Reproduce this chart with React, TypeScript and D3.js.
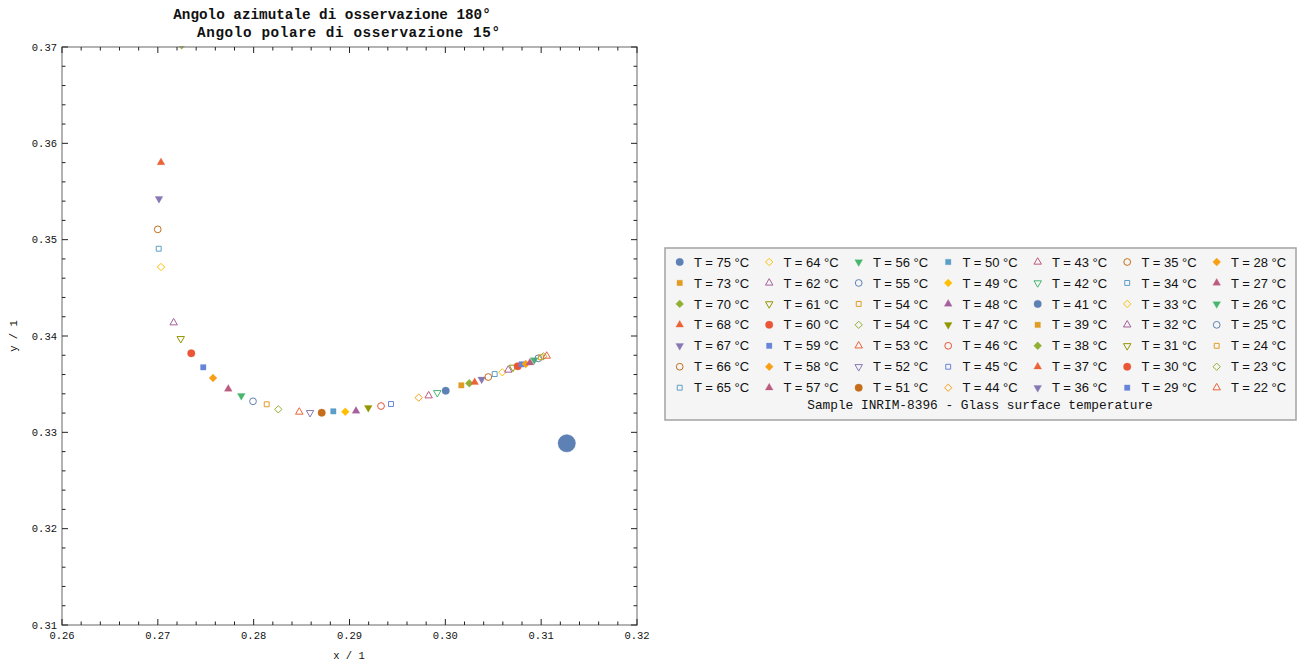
import React from "react";
import * as d3 from "d3";

// ---------- data ----------
const temps: number[] = [75, 73, 70, 68, 67, 66, 65, 64, 62, 61, 60, 59, 58, 57, 56, 55, 54, 54, 53, 52, 51, 50, 49, 48, 47, 46, 45, 44, 43, 42, 41, 39, 38, 37, 36, 35, 34, 33, 32, 31, 30, 29, 28, 27, 26, 25, 24, 23, 22];
const xs: number[] = [0.31267, 0.2760, 0.27249, 0.27033, 0.27012, 0.26999, 0.27009, 0.27033, 0.27165, 0.27239, 0.27349, 0.27474, 0.27576, 0.27735, 0.27871, 0.27993, 0.28136, 0.28257, 0.28476, 0.28588, 0.28710, 0.28831, 0.28956, 0.29068, 0.29196, 0.29329, 0.29433, 0.29722, 0.29826, 0.29916, 0.30004, 0.30167, 0.30250, 0.30306, 0.30379, 0.30448, 0.30515, 0.30595, 0.30657, 0.30706, 0.30755, 0.30797, 0.30839, 0.30883, 0.30928, 0.30970, 0.30998, 0.31022, 0.31058];
const ys: number[] = [0.32886, 0.3790, 0.37018, 0.35801, 0.35425, 0.35107, 0.34906, 0.34716, 0.34138, 0.33972, 0.33820, 0.33675, 0.33564, 0.33450, 0.33380, 0.33322, 0.33291, 0.33239, 0.33211, 0.33204, 0.33204, 0.33218, 0.33214, 0.33221, 0.33256, 0.33273, 0.33294, 0.33360, 0.33380, 0.33411, 0.33432, 0.33488, 0.33509, 0.33519, 0.33550, 0.33574, 0.33605, 0.33623, 0.33647, 0.33675, 0.33685, 0.33706, 0.33709, 0.33723, 0.33751, 0.33768, 0.33779, 0.33789, 0.33792];
const bigIndex = 0; // first sample drawn enlarged

const palette: string[] = ["#5E81B5", "#E19C24", "#8FB032", "#EB6235", "#8778B3", "#C56E1A", "#5D9EC7", "#FFBF00", "#A5609D", "#929600", "#E95536", "#6685D9", "#F89F13", "#BC5B80", "#47B66D"];

const xTicks: number[] = [0.26, 0.27, 0.28, 0.29, 0.30, 0.31, 0.32];
const yTicks: number[] = [0.31, 0.32, 0.33, 0.34, 0.35, 0.36, 0.37];
const titleLines: string[] = ["Angolo azimutale di osservazione 180°", "Angolo polare di osservazione 15°"];
const legendCaption = "Sample INRIM-8396 - Glass surface temperature";

// ---------- layout ----------
const W = 1300, H = 663;
const plot = { left: 62, right: 637, top: 47, bottom: 625 };
const xScale = d3.scaleLinear().domain([0.26, 0.32]).range([plot.left, plot.right]);
const yScale = d3.scaleLinear().domain([0.31, 0.37]).range([plot.bottom, plot.top]);
const xMinor = d3.range(0, 31).map((i) => 0.26 + i * 0.002);
const yMinor = d3.range(0, 31).map((i) => 0.31 + i * 0.002);

const mono = "'Liberation Mono', 'DejaVu Sans Mono', monospace";
const sans = "'Liberation Sans', Arial, sans-serif";

function markerPath(i: number, scale = 1): { d: string; filled: boolean; rot: number } {
  const shape = i % 10;
  const filled = shape < 5;
  const k = shape % 5;
  let type: d3.SymbolType = d3.symbolCircle;
  let size = 44;
  let rot = 0;
  if (k === 0) { type = d3.symbolCircle; size = filled ? 44 : 36; }
  else if (k === 1) { type = d3.symbolSquare; size = filled ? 30 : 24; }
  else if (k === 2) { type = d3.symbolDiamond2; size = filled ? 40 : 34; }
  else if (k === 3) { type = d3.symbolTriangle; size = filled ? 26 : 24; }
  else { type = d3.symbolTriangle; size = filled ? 26 : 24; rot = 180; }
  const d = d3.symbol().type(type).size(size * scale * scale)() || "";
  return { d, filled, rot };
}

function Marker({ i, x, y, scale = 1 }: { i: number; x: number; y: number; scale?: number }) {
  const { d, filled, rot } = markerPath(i, scale);
  const c = palette[i % palette.length];
  return (
    <path
      d={d}
      transform={`translate(${x},${y}) rotate(${rot})`}
      fill={filled ? c : "none"}
      stroke={c}
      strokeWidth={filled ? 0.3 : 1}
    />
  );
}

export default function App() {
  const legendX = 665, legendY = 248, legendW = 631, legendH = 172;
  const colStep = 89.5, rowStep = 20.95;
  return (
    <svg width={W} height={H} style={{ position: "absolute", left: 0, top: 0, background: "#fff" }}>
      <defs>
        <clipPath id="plotClip">
          <rect x={plot.left} y={plot.top - 1} width={plot.right - plot.left} height={plot.bottom - plot.top + 1} />
        </clipPath>
      </defs>
      {/* title */}
      <text x={332} y={19} textAnchor="middle" fontFamily={mono} fontWeight="bold" fontSize={14.3} fill="#111">
        {titleLines[0]}
      </text>
      <text x={348.5} y={36.5} textAnchor="middle" fontFamily={mono} fontWeight="bold" fontSize={14.3} fill="#111" textLength={303} lengthAdjust="spacing">
        {titleLines[1]}
      </text>
      {/* points */}
      <g clipPath="url(#plotClip)">
        {temps.map((t, i) => (
          <Marker key={i} i={i} x={xScale(xs[i])} y={yScale(ys[i])} scale={i === bigIndex ? 2.35 : 1} />
        ))}
      </g>
      {/* frame */}
      <rect x={plot.left} y={plot.top} width={plot.right - plot.left} height={plot.bottom - plot.top} fill="none" stroke="#8a8a8a" strokeWidth={1.3} />
      {/* ticks */}
      {xMinor.map((v, k) => {
        const major = k % 5 === 0;
        const len = major ? 6 : 3.5;
        const x = xScale(v);
        return (
          <g key={"xt" + k} stroke="#222" strokeWidth={1}>
            <line x1={x} x2={x} y1={plot.bottom} y2={plot.bottom - len} />
            <line x1={x} x2={x} y1={plot.top} y2={plot.top + len} />
          </g>
        );
      })}
      {yMinor.map((v, k) => {
        const major = k % 5 === 0;
        const len = major ? 6 : 3.5;
        const y = yScale(v);
        return (
          <g key={"yt" + k} stroke="#222" strokeWidth={1}>
            <line x1={plot.left} x2={plot.left + len} y1={y} y2={y} />
            <line x1={plot.right} x2={plot.right - len} y1={y} y2={y} />
          </g>
        );
      })}
      {xTicks.map((v) => (
        <text key={"xl" + v} x={xScale(v)} y={639} textAnchor="middle" fontFamily={mono} fontSize={10.5} fill="#111">
          {v.toFixed(2)}
        </text>
      ))}
      {yTicks.map((v) => (
        <text key={"yl" + v} x={57} y={yScale(v) + 3.5} textAnchor="end" fontFamily={mono} fontSize={10.5} fill="#111">
          {v.toFixed(2)}
        </text>
      ))}
      <text x={349} y={659} textAnchor="middle" fontFamily={mono} fontSize={10.5} fill="#111">x / 1</text>
      <text transform={`translate(17,${(plot.top + plot.bottom) / 2}) rotate(-90)`} textAnchor="middle" fontFamily={mono} fontSize={10.5} fill="#111">y / 1</text>

      {/* legend */}
      <rect x={legendX} y={legendY} width={legendW} height={legendH} fill="#f5f5f5" stroke="#a8a8a8" strokeWidth={1.6} />
      {temps.map((t, i) => {
        const col = Math.floor(i / 7);
        const row = i % 7;
        const mx = 679.7 + col * colStep;
        const my = 262 + row * rowStep;
        return (
          <g key={"lg" + i}>
            <Marker i={i} x={mx} y={my} />
            <text x={mx + 14.3} y={my + 4.6} fontFamily={sans} fontSize={13} fill="#111">
              {`T = ${t} °C`}
            </text>
          </g>
        );
      })}
      <text x={980} y={409} textAnchor="middle" fontFamily={mono} fontSize={12.8} fill="#111">{legendCaption}</text>
    </svg>
  );
}
